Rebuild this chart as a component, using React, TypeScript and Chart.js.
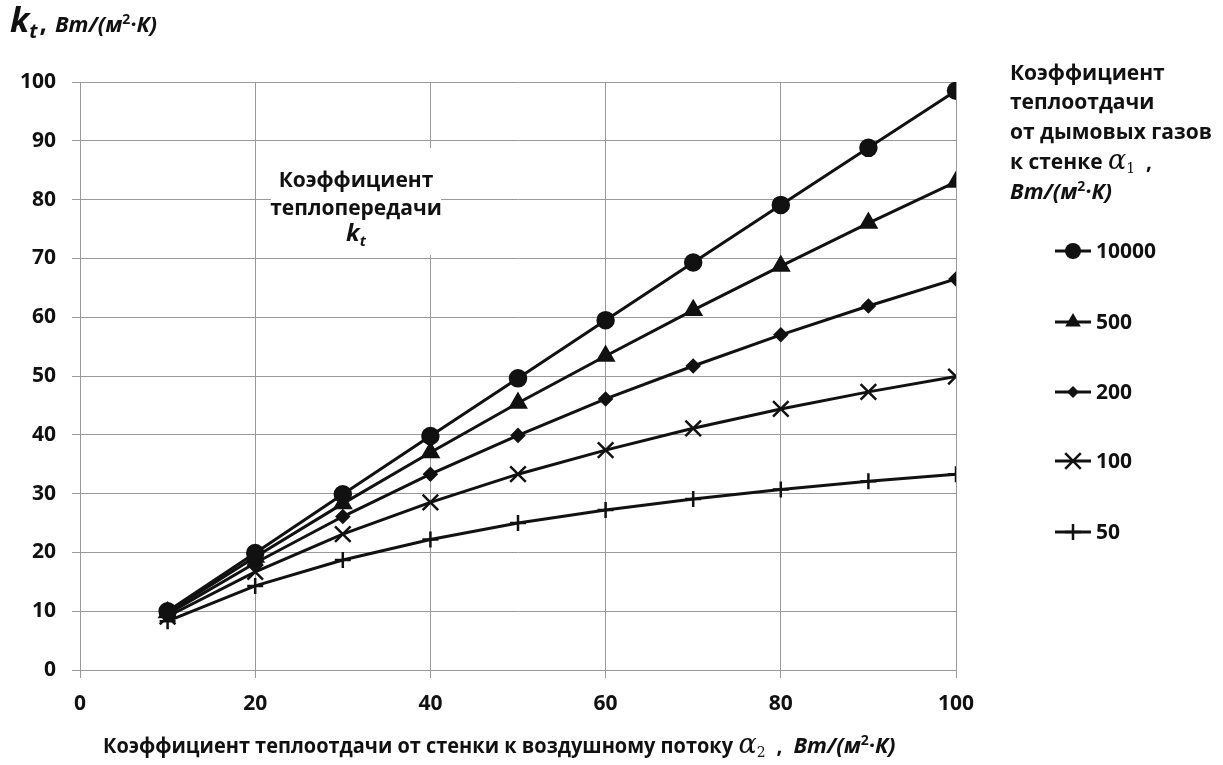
import React, { useEffect, useRef } from "react";
import { Chart, registerables } from "chart.js";

Chart.register(...registerables);

// Heat transfer coefficient k_t vs. wall-to-air coefficient α2, for several flue-gas coefficients α1
const ALPHA2 = [10, 20, 30, 40, 50, 60, 70, 80, 90, 100];
const K_10000 = [10.0, 19.9, 29.9, 39.8, 49.6, 59.5, 69.3, 79.1, 88.8, 98.5];
const K_500 = [9.8, 19.2, 28.3, 37.0, 45.4, 53.4, 61.2, 68.7, 76.0, 83.0];
const K_200 = [9.5, 18.2, 26.1, 33.3, 39.9, 46.1, 51.7, 57.0, 61.9, 66.5];
const K_100 = [9.1, 16.7, 23.1, 28.5, 33.3, 37.4, 41.1, 44.4, 47.3, 49.9];
const K_50 = [8.3, 14.3, 18.7, 22.2, 25.0, 27.2, 29.1, 30.7, 32.1, 33.3];
const SERIES_LABELS = ["10000", "500", "200", "100", "50"];
const SERIES_VALUES = [K_10000, K_500, K_200, K_100, K_50];
const POINT_STYLES = ["circle", "triangle", "rectRot", "crossRot", "cross"] as const;
const POINT_RADII = [8, 9, 6, 11, 8];

const X_MIN = 0;
const X_MAX = 100;
const X_STEP = 20;
const Y_MIN = 0;
const Y_MAX = 100;
const Y_STEP = 10;

const FONT = "'Open Sans', 'Noto Sans', sans-serif";
const SERIF = "'DejaVu Serif', 'Liberation Serif', serif";
const INK = "#111111";
const GRID = "#999999";

type Seg = { t: string; font: string; dy?: number; gap?: number };

function richWidth(ctx: CanvasRenderingContext2D, segs: Seg[]) {
  let w = 0;
  for (const s of segs) {
    ctx.font = s.font;
    w += ctx.measureText(s.t).width + (s.gap || 0);
  }
  return w;
}

function drawRich(
  ctx: CanvasRenderingContext2D,
  segs: Seg[],
  x: number,
  y: number,
  align: "left" | "center" = "left"
) {
  const total = richWidth(ctx, segs);
  let cx = align === "center" ? x - total / 2 : x;
  ctx.textAlign = "left";
  ctx.textBaseline = "alphabetic";
  for (const s of segs) {
    ctx.font = s.font;
    ctx.fillText(s.t, cx, y + (s.dy || 0));
    cx += ctx.measureText(s.t).width + (s.gap || 0);
  }
  return cx;
}

function drawFitted(
  ctx: CanvasRenderingContext2D,
  text: string,
  font: string,
  x: number,
  y: number,
  width: number
) {
  ctx.font = font;
  const w = ctx.measureText(text).width;
  ctx.save();
  ctx.translate(x, y);
  ctx.scale(width / w, 1);
  ctx.textAlign = "left";
  ctx.textBaseline = "alphabetic";
  ctx.fillText(text, 0, 0);
  ctx.restore();
  return x + width;
}

function drawMarker(ctx: CanvasRenderingContext2D, style: string, r: number, x: number, y: number) {
  ctx.beginPath();
  if (style === "circle") {
    ctx.arc(x, y, r, 0, Math.PI * 2);
    ctx.fill();
  } else if (style === "triangle") {
    for (let i = 0; i < 3; i++) {
      const a = (i * 2 * Math.PI) / 3;
      const px = x + Math.sin(a) * r;
      const py = y - Math.cos(a) * r;
      if (i === 0) ctx.moveTo(px, py);
      else ctx.lineTo(px, py);
    }
    ctx.closePath();
    ctx.fill();
  } else if (style === "rectRot") {
    ctx.moveTo(x - r, y);
    ctx.lineTo(x, y - r);
    ctx.lineTo(x + r, y);
    ctx.lineTo(x, y + r);
    ctx.closePath();
    ctx.fill();
  } else if (style === "crossRot") {
    const o = r * Math.SQRT1_2;
    ctx.moveTo(x - o, y - o);
    ctx.lineTo(x + o, y + o);
    ctx.moveTo(x + o, y - o);
    ctx.lineTo(x - o, y + o);
    ctx.stroke();
  } else {
    ctx.moveTo(x - r, y);
    ctx.lineTo(x + r, y);
    ctx.moveTo(x, y - r);
    ctx.lineTo(x, y + r);
    ctx.stroke();
  }
}

const unit = (size: number, supY: number): Seg[] => [
  { t: "Вт/(м", font: `italic bold ${size}px ${FONT}` },
  { t: "2", font: `bold ${Math.round(size * 0.62)}px ${FONT}`, dy: supY },
  { t: "·К)", font: `italic bold ${size}px ${FONT}` },
];

const textPlugin = {
  id: "textBlocks",
  beforeDatasetsDraw(chart: any) {
    const ctx: CanvasRenderingContext2D = chart.ctx;
    ctx.save();
    ctx.fillStyle = "#ffffff";
    ctx.fillRect(271, 148, 170, 107);
    ctx.restore();
  },
  afterDraw(chart: any) {
    const ctx: CanvasRenderingContext2D = chart.ctx;
    ctx.save();
    ctx.fillStyle = INK;
    ctx.strokeStyle = INK;

    // value axis title
    drawRich(
      ctx,
      [
        { t: "k", font: `italic bold 34px ${FONT}` },
        { t: "t", font: `italic bold 20px ${FONT}`, dy: 6, gap: 2 },
        { t: ",", font: `bold 26px ${FONT}`, gap: 8 },
        ...unit(22, -8),
      ],
      10,
      32
    );

    // category axis title
    const y0 = 753;
    let cx = drawFitted(
      ctx,
      "Коэффициент теплоотдачи от стенки к воздушному потоку",
      `bold 21px ${FONT}`,
      103,
      y0,
      630
    );
    drawRich(
      ctx,
      [
        { t: " ", font: `bold 21px ${FONT}` },
        { t: "α", font: `italic 27px ${SERIF}` },
        { t: "2", font: `14px ${SERIF}`, dy: 4 },
        { t: "  ,  ", font: `bold 21px ${FONT}` },
        ...unit(22, -8),
      ],
      cx,
      y0
    );

    // legend heading
    const lx = 1010;
    const lf = `bold 21px ${FONT}`;
    drawRich(ctx, [{ t: "Коэффициент", font: lf }], lx, 80);
    drawRich(ctx, [{ t: "теплоотдачи", font: lf }], lx, 109);
    drawRich(ctx, [{ t: "от дымовых газов", font: lf }], lx, 139);
    drawRich(
      ctx,
      [
        { t: "к стенке ", font: lf },
        { t: "α", font: `italic 27px ${SERIF}` },
        { t: "1", font: `14px ${SERIF}`, dy: 4 },
        { t: "  ,", font: lf },
      ],
      lx,
      169
    );
    drawRich(ctx, unit(22, -8), lx, 199);

    // legend entries
    const rows = [251, 322, 392, 461, 532];
    SERIES_LABELS.forEach((label, i) => {
      const ry = rows[i];
      ctx.lineWidth = 3;
      ctx.beginPath();
      ctx.moveTo(1055, ry);
      ctx.lineTo(1091, ry);
      ctx.stroke();
      ctx.lineWidth = 2.5;
      drawMarker(ctx, POINT_STYLES[i], POINT_RADII[i], 1073, ry);
      ctx.font = `bold 21px ${FONT}`;
      ctx.textAlign = "left";
      ctx.textBaseline = "middle";
      ctx.fillText(label, 1096, ry + 1);
    });

    // in-plot note
    const af = `bold 21px ${FONT}`;
    drawRich(ctx, [{ t: "Коэффициент", font: af }], 356, 187, "center");
    drawRich(ctx, [{ t: "теплопередачи", font: af }], 356, 215, "center");
    drawRich(
      ctx,
      [
        { t: "k", font: `italic bold 24px ${FONT}` },
        { t: "t", font: `italic bold 15px ${FONT}`, dy: 5 },
      ],
      356,
      241,
      "center"
    );
    ctx.restore();
  },
};

export default function App() {
  const canvasRef = useRef<HTMLCanvasElement | null>(null);

  useEffect(() => {
    const canvas = canvasRef.current;
    if (!canvas) return;

    const datasets = SERIES_LABELS.map((label, i) => ({
      label,
      data: ALPHA2.map((x, j) => ({ x, y: SERIES_VALUES[i][j] })),
      borderColor: INK,
      backgroundColor: INK,
      borderWidth: 3,
      tension: 0,
      pointStyle: POINT_STYLES[i],
      pointRadius: POINT_RADII[i],
      pointBackgroundColor: INK,
      pointBorderColor: INK,
      pointBorderWidth: 2.5,
    }));

    const tickFont = { family: FONT, size: 21, weight: "bold" as const };

    const chart = new Chart(canvas, {
      type: "line",
      data: { datasets },
      options: {
        animation: false,
        responsive: false,
        maintainAspectRatio: false,
        layout: { padding: { left: 0, right: 267, top: 82, bottom: 0 } },
        plugins: {
          legend: { display: false },
          tooltip: { enabled: false },
        },
        scales: {
          x: {
            type: "linear",
            min: X_MIN,
            max: X_MAX,
            ticks: { stepSize: X_STEP, font: tickFont, color: INK, padding: 13 },
            grid: { color: GRID, lineWidth: 1, tickLength: 8, drawTicks: true },
            border: { color: GRID, width: 1 },
            afterFit: (s: any) => {
              s.height = 95;
            },
          },
          y: {
            type: "linear",
            min: Y_MIN,
            max: Y_MAX,
            ticks: { stepSize: Y_STEP, font: tickFont, color: INK, padding: 16 },
            grid: { color: GRID, lineWidth: 1, tickLength: 8, drawTicks: true },
            border: { color: GRID, width: 1 },
            afterFit: (s: any) => {
              s.width = 80;
            },
          },
        },
      },
      plugins: [textPlugin],
    });

    return () => chart.destroy();
  }, []);

  return (
    <div style={{ position: "absolute", left: 0, top: 0, width: 1223, height: 765, background: "#ffffff" }}>
      <canvas ref={canvasRef} width={1223} height={765} style={{ display: "block" }} />
    </div>
  );
}
